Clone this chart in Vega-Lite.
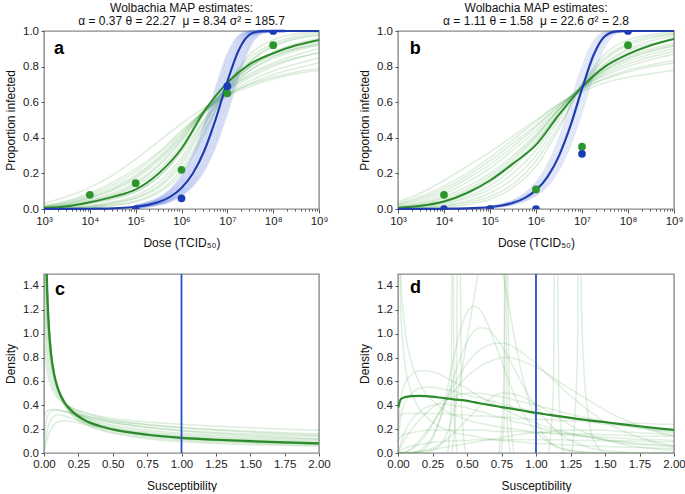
{
"$schema":"https://vega.github.io/schema/vega-lite/v6.json",
"padding":{"left":3,"top":0,"right":2,"bottom":0},
"config":{"font":"Liberation Sans","view":{"stroke":"#8a8a8a","strokeWidth":1.4},
"axis":{"grid":false,"domain":false,"tickColor":"#555","tickSize":3,"labelFontSize":11.5,"labelColor":"#222","titleFontSize":12,"titleFontWeight":"normal","titleColor":"#111","labelPadding":2.5,"titlePadding":5},
"axisX":{"titlePadding":10},
"title":{"fontSize":12,"fontWeight":"normal","color":"#111","anchor":"middle","offset":-3,"lineHeight":13.5}},
"columns":2,
"spacing":{"row":23,"column":26},
"datasets":{
"A":[
{"x":1e3,"g":0.005,"b":0.0001,"s1":0.001,"s2":0.002,"s3":0.003,"s4":0.004,"s5":0.006,"s6":0.008,"s7":0.01,"s8":0.013,"s9":0.016,"s10":0.03,"s11":0.018,"s12":0.002,"s13":0.005,"s14":0.001,"s15":0.007,"s16":0.012},
{"x":1778,"b":0.0002},
{"x":3162,"g":0.015,"b":0.0004,"s1":0.003,"s2":0.005,"s3":0.008,"s4":0.012,"s5":0.018,"s6":0.022,"s7":0.028,"s8":0.035,"s9":0.04,"s10":0.07,"s11":0.045,"s12":0.006,"s13":0.014,"s14":0.004,"s15":0.02,"s16":0.03},
{"x":5623,"b":0.0007},
{"x":1e4,"g":0.038,"b":0.0013,"s1":0.008,"s2":0.013,"s3":0.02,"s4":0.03,"s5":0.04,"s6":0.05,"s7":0.06,"s8":0.07,"s9":0.08,"s10":0.12,"s11":0.09,"s12":0.016,"s13":0.033,"s14":0.01,"s15":0.045,"s16":0.065},
{"x":17783,"b":0.0022},
{"x":31623,"g":0.068,"b":0.004,"s1":0.018,"s2":0.03,"s3":0.04,"s4":0.055,"s5":0.075,"s6":0.09,"s7":0.105,"s8":0.12,"s9":0.135,"s10":0.19,"s11":0.15,"s12":0.035,"s13":0.06,"s14":0.022,"s15":0.08,"s16":0.11},
{"x":56234,"b":0.0071},
{"x":1e5,"g":0.11,"b":0.0125,"s1":0.04,"s2":0.06,"s3":0.075,"s4":0.095,"s5":0.13,"s6":0.15,"s7":0.17,"s8":0.19,"s9":0.21,"s10":0.28,"s11":0.225,"s12":0.065,"s13":0.1,"s14":0.045,"s15":0.14,"s16":0.18,"t1":0.0198,"t2":0.0176,"t3":0.0157,"t4":0.014,"t5":0.0112,"t6":0.00995,"t7":0.0089,"t8":0.0079},
{"x":177828,"b":0.0221,"t1":0.0349,"t2":0.0311,"t3":0.0278,"t4":0.0248,"t5":0.0198,"t6":0.0176,"t7":0.0157,"t8":0.014},
{"x":316228,"g":0.2,"b":0.039,"s1":0.09,"s2":0.12,"s3":0.15,"s4":0.18,"s5":0.22,"s6":0.25,"s7":0.27,"s8":0.29,"s9":0.31,"s10":0.38,"s11":0.32,"s12":0.13,"s13":0.18,"s14":0.1,"s15":0.24,"s16":0.28,"t1":0.0612,"t2":0.0547,"t3":0.0489,"t4":0.0437,"t5":0.0349,"t6":0.0311,"t7":0.0278,"t8":0.0248},
{"x":562341,"b":0.0683,"t1":0.1061,"t2":0.0952,"t3":0.0853,"t4":0.0764,"t5":0.0612,"t6":0.0547,"t7":0.0489,"t8":0.0437},
{"x":1e6,"g":0.34,"b":0.1183,"s1":0.2,"s2":0.25,"s3":0.29,"s4":0.33,"s5":0.36,"s6":0.39,"s7":0.4,"s8":0.42,"s9":0.43,"s10":0.48,"s11":0.44,"s12":0.27,"s13":0.32,"s14":0.22,"s15":0.38,"s16":0.41,"t1":0.1809,"t2":0.1629,"t3":0.1466,"t4":0.1318,"t5":0.1061,"t6":0.0952,"t7":0.0853,"t8":0.0764},
{"x":1778279,"b":0.2006,"t1":0.2987,"t2":0.2711,"t3":0.2456,"t4":0.2221,"t5":0.1809,"t6":0.1629,"t7":0.1466,"t8":0.1318},
{"x":3162278,"g":0.55,"b":0.3284,"s1":0.42,"s2":0.47,"s3":0.5,"s4":0.53,"s5":0.54,"s6":0.55,"s7":0.55,"s8":0.55,"s9":0.55,"s10":0.57,"s11":0.55,"s12":0.48,"s13":0.5,"s14":0.44,"s15":0.56,"s16":0.56,"t1":0.4679,"t2":0.4301,"t3":0.3942,"t4":0.3602,"t5":0.2987,"t6":0.2711,"t7":0.2456,"t8":0.2221},
{"x":5623413,"b":0.5073,"t1":0.6744,"t2":0.6321,"t3":0.5899,"t4":0.5481,"t5":0.4679,"t6":0.4301,"t7":0.3942,"t8":0.3602},
{"x":1e7,"g":0.71,"b":0.716,"s1":0.69,"s2":0.7,"s3":0.7,"s4":0.69,"s5":0.68,"s6":0.67,"s7":0.66,"s8":0.65,"s9":0.64,"s10":0.645,"s11":0.635,"s12":0.67,"s13":0.66,"s14":0.67,"s15":0.7,"s16":0.67,"t1":0.864,"t2":0.831,"t3":0.795,"t4":0.7566,"t5":0.6744,"t6":0.6321,"t7":0.5899,"t8":0.5481},
{"x":17782794,"b":0.8934,"t1":0.9712,"t2":0.9577,"t3":0.9403,"t4":0.919,"t5":0.864,"t6":0.831,"t7":0.795,"t8":0.7566},
{"x":31622777,"g":0.815,"b":0.9813,"s1":0.87,"s2":0.85,"s3":0.83,"s4":0.8,"s5":0.78,"s6":0.76,"s7":0.74,"s8":0.72,"s9":0.705,"s10":0.7,"s11":0.69,"s12":0.8,"s13":0.78,"s14":0.83,"s15":0.8,"s16":0.75,"t1":0.9982,"t2":0.9964,"t3":0.9933,"t4":0.9885,"t5":0.9712,"t6":0.9577,"t7":0.9403,"t8":0.919},
{"x":56234133,"b":0.9992,"t1":1,"t2":1,"t3":1,"t4":0.9997,"t5":0.9982,"t6":0.9964,"t7":0.9933,"t8":0.9885},
{"x":1e8,"g":0.875,"b":1,"s1":0.95,"s2":0.93,"s3":0.91,"s4":0.87,"s5":0.845,"s6":0.82,"s7":0.8,"s8":0.775,"s9":0.755,"s10":0.74,"s11":0.73,"s12":0.88,"s13":0.855,"s14":0.92,"s15":0.86,"s16":0.81,"t1":1,"t2":1,"t3":1,"t4":1,"t5":1,"t6":1,"t7":0.9997,"t8":0.9997},
{"x":177827941,"b":1,"t1":1,"t2":1,"t3":1,"t4":1,"t5":1,"t6":1,"t7":1,"t8":1},
{"x":316227766,"g":0.92,"b":1,"s1":0.985,"s2":0.97,"s3":0.955,"s4":0.91,"s5":0.89,"s6":0.865,"s7":0.845,"s8":0.815,"s9":0.79,"s10":0.77,"s11":0.76,"s12":0.93,"s13":0.9,"s14":0.96,"s15":0.9,"s16":0.85},
{"x":562341325,"b":1},
{"x":1e9,"g":0.95,"b":1,"s1":0.995,"s2":0.99,"s3":0.975,"s4":0.94,"s5":0.92,"s6":0.9,"s7":0.88,"s8":0.85,"s9":0.82,"s10":0.79,"s11":0.78,"s12":0.96,"s13":0.93,"s14":0.98,"s15":0.925,"s16":0.875}
],
"B":[
{"x":1e3,"g":0.006,"b":0.0001,"s1":0.001,"s2":0.003,"s3":0.005,"s4":0.008,"s5":0.012,"s6":0.02,"s7":0.03,"s8":0.04,"s9":0.002,"s10":0.006,"s11":0.015,"s12":0.004,"s13":0.025,"s14":0.01},
{"x":1778,"b":0.0002},
{"x":3162,"g":0.018,"b":0.0004,"s1":0.004,"s2":0.008,"s3":0.014,"s4":0.022,"s5":0.032,"s6":0.05,"s7":0.07,"s8":0.09,"s9":0.006,"s10":0.018,"s11":0.04,"s12":0.011,"s13":0.06,"s14":0.027},
{"x":5623,"b":0.0006},
{"x":1e4,"g":0.042,"b":0.0011,"s1":0.01,"s2":0.02,"s3":0.035,"s4":0.05,"s5":0.07,"s6":0.1,"s7":0.13,"s8":0.16,"s9":0.016,"s10":0.042,"s11":0.085,"s12":0.028,"s13":0.115,"s14":0.06},
{"x":17783,"b":0.002},
{"x":31623,"g":0.09,"b":0.0035,"s1":0.025,"s2":0.045,"s3":0.07,"s4":0.1,"s5":0.125,"s6":0.17,"s7":0.2,"s8":0.24,"s9":0.035,"s10":0.085,"s11":0.15,"s12":0.06,"s13":0.185,"s14":0.11},
{"x":56234,"b":0.0063},
{"x":1e5,"g":0.16,"b":0.0112,"s1":0.055,"s2":0.09,"s3":0.13,"s4":0.17,"s5":0.2,"s6":0.25,"s7":0.29,"s8":0.32,"s9":0.07,"s10":0.15,"s11":0.23,"s12":0.11,"s13":0.27,"s14":0.185,"t1":0.0157,"t2":0.014,"t3":0.0125,"t4":0.00995,"t5":0.0089,"t6":0.0079},
{"x":177828,"b":0.0198,"t1":0.0278,"t2":0.0248,"t3":0.0221,"t4":0.0176,"t5":0.0157,"t6":0.014},
{"x":316228,"g":0.255,"b":0.0349,"s1":0.12,"s2":0.17,"s3":0.23,"s4":0.27,"s5":0.3,"s6":0.35,"s7":0.39,"s8":0.41,"s9":0.14,"s10":0.25,"s11":0.33,"s12":0.2,"s13":0.37,"s14":0.285,"t1":0.0489,"t2":0.0437,"t3":0.039,"t4":0.0311,"t5":0.0278,"t6":0.0248},
{"x":562341,"b":0.0612,"t1":0.0853,"t2":0.0764,"t3":0.0683,"t4":0.0547,"t5":0.0489,"t6":0.0437},
{"x":1e6,"g":0.36,"b":0.1061,"s1":0.24,"s2":0.3,"s3":0.37,"s4":0.4,"s5":0.42,"s6":0.46,"s7":0.49,"s8":0.5,"s9":0.27,"s10":0.38,"s11":0.44,"s12":0.33,"s13":0.47,"s14":0.41,"t1":0.1466,"t2":0.1318,"t3":0.1183,"t4":0.0952,"t5":0.0853,"t6":0.0764},
{"x":1778279,"b":0.1809,"t1":0.2456,"t2":0.2221,"t3":0.2006,"t4":0.1629,"t5":0.1466,"t6":0.1318},
{"x":3162278,"g":0.53,"b":0.2987,"s1":0.45,"s2":0.5,"s3":0.55,"s4":0.56,"s5":0.56,"s6":0.58,"s7":0.59,"s8":0.59,"s9":0.47,"s10":0.54,"s11":0.57,"s12":0.52,"s13":0.58,"s14":0.56,"t1":0.3942,"t2":0.3602,"t3":0.3284,"t4":0.2711,"t5":0.2456,"t6":0.2221},
{"x":5623413,"b":0.4679,"t1":0.5899,"t2":0.5481,"t3":0.5073,"t4":0.4301,"t5":0.3942,"t6":0.3602},
{"x":1e7,"g":0.685,"b":0.6744,"s1":0.7,"s2":0.7,"s3":0.7,"s4":0.69,"s5":0.68,"s6":0.68,"s7":0.675,"s8":0.66,"s9":0.69,"s10":0.68,"s11":0.68,"s12":0.69,"s13":0.67,"s14":0.685,"t1":0.795,"t2":0.7566,"t3":0.716,"t4":0.6321,"t5":0.5899,"t6":0.5481},
{"x":17782794,"b":0.864,"t1":0.9403,"t2":0.919,"t3":0.8934,"t4":0.831,"t5":0.795,"t6":0.7566},
{"x":31622777,"g":0.8,"b":0.9712,"s1":0.87,"s2":0.85,"s3":0.82,"s4":0.79,"s5":0.77,"s6":0.75,"s7":0.73,"s8":0.71,"s9":0.84,"s10":0.78,"s11":0.76,"s12":0.81,"s13":0.735,"s14":0.78,"t1":0.9933,"t2":0.9885,"t3":0.9813,"t4":0.9577,"t5":0.9403,"t6":0.919},
{"x":56234133,"b":0.9982,"t1":1,"t2":0.9997,"t3":0.9992,"t4":0.9964,"t5":0.9933,"t6":0.9885},
{"x":1e8,"g":0.87,"b":1,"s1":0.95,"s2":0.93,"s3":0.9,"s4":0.86,"s5":0.83,"s6":0.8,"s7":0.77,"s8":0.74,"s9":0.92,"s10":0.85,"s11":0.815,"s12":0.89,"s13":0.78,"s14":0.845,"t1":1,"t2":1,"t3":1,"t4":1,"t5":1,"t6":0.9997},
{"x":177827941,"b":1,"t1":1,"t2":1,"t3":1,"t4":1,"t5":1,"t6":1},
{"x":316227766,"g":0.92,"b":1,"s1":0.98,"s2":0.97,"s3":0.945,"s4":0.9,"s5":0.87,"s6":0.84,"s7":0.8,"s8":0.76,"s9":0.96,"s10":0.89,"s11":0.855,"s12":0.93,"s13":0.81,"s14":0.885},
{"x":562341325,"b":1},
{"x":1e9,"g":0.955,"b":1,"s1":0.993,"s2":0.985,"s3":0.97,"s4":0.93,"s5":0.9,"s6":0.87,"s7":0.82,"s8":0.78,"s9":0.98,"s10":0.92,"s11":0.885,"s12":0.955,"s13":0.835,"s14":0.915}
],
"PA":[
{"c":"g","x":1e4,"y":0.08},{"c":"g","x":1e5,"y":0.145},{"c":"g","x":1e6,"y":0.22},{"c":"g","x":1e7,"y":0.65},{"c":"g","x":1e8,"y":0.92},
{"c":"b","x":1e5,"y":0},{"c":"b","x":1e6,"y":0.06},{"c":"b","x":1e7,"y":0.69},{"c":"b","x":1e8,"y":1}
],
"PB":[
{"c":"g","x":1e4,"y":0.08},{"c":"g","x":1e5,"y":0},{"c":"g","x":1e6,"y":0.11},{"c":"g","x":1e7,"y":0.35},{"c":"g","x":1e8,"y":0.92},
{"c":"b","x":1e4,"y":0},{"c":"b","x":1e5,"y":0},{"c":"b","x":1e6,"y":0},{"c":"b","x":1e7,"y":0.31},{"c":"b","x":1e8,"y":1}
],
"C":[
{"x":0.005,"m":3.6,"s1":5.0,"s2":4.2,"s3":3.0,"s4":2.2,"s5":1.6,"s6":1.2,"s7":0.9,"s8":3.4,"s9":3.8,"s10":2.6,"s11":0.05,"s12":0.15,"s13":0.02,"s14":0.3},
{"x":0.01,"m":2.33,"s1":3.0,"s2":2.6,"s3":2.0,"s4":1.6,"s5":1.25,"s6":1.0,"s7":0.8,"s8":2.2,"s9":2.4,"s10":1.8,"s11":0.1,"s12":0.22,"s13":0.05,"s14":0.33},
{"x":0.02,"m":1.5,"s1":1.75,"s2":1.6,"s3":1.35,"s4":1.15,"s5":0.95,"s6":0.82,"s7":0.7,"s8":1.45,"s9":1.52,"s10":1.25,"s11":0.17,"s12":0.29,"s13":0.1,"s14":0.35},
{"x":0.03,"m":1.17,"s1":1.3,"s2":1.22,"s3":1.08,"s4":0.95,"s5":0.82,"s6":0.72,"s7":0.64,"s8":1.13,"s9":1.17,"s10":1.0,"s11":0.22,"s12":0.32,"s13":0.14,"s14":0.36},
{"x":0.05,"m":0.845,"s1":0.9,"s2":0.86,"s3":0.8,"s4":0.74,"s5":0.66,"s6":0.61,"s7":0.56,"s8":0.83,"s9":0.84,"s10":0.77,"s11":0.28,"s12":0.35,"s13":0.2,"s14":0.365},
{"x":0.075,"m":0.654,"s1":0.67,"s2":0.65,"s3":0.63,"s4":0.6,"s5":0.56,"s6":0.53,"s7":0.5,"s8":0.65,"s9":0.65,"s10":0.62,"s11":0.31,"s12":0.36,"s13":0.24,"s14":0.365},
{"x":0.1,"m":0.547,"s1":0.54,"s2":0.53,"s3":0.53,"s4":0.52,"s5":0.5,"s6":0.48,"s7":0.46,"s8":0.545,"s9":0.54,"s10":0.53,"s11":0.32,"s12":0.36,"s13":0.26,"s14":0.36},
{"x":0.15,"m":0.423,"s1":0.4,"s2":0.4,"s3":0.42,"s4":0.42,"s5":0.42,"s6":0.42,"s7":0.41,"s8":0.42,"s9":0.41,"s10":0.42,"s11":0.31,"s12":0.345,"s13":0.27,"s14":0.35},
{"x":0.2,"m":0.353,"s1":0.32,"s2":0.33,"s3":0.355,"s4":0.365,"s5":0.37,"s6":0.38,"s7":0.38,"s8":0.35,"s9":0.34,"s10":0.36,"s11":0.29,"s12":0.33,"s13":0.265,"s14":0.335},
{"x":0.3,"m":0.273,"s1":0.24,"s2":0.25,"s3":0.28,"s4":0.3,"s5":0.315,"s6":0.33,"s7":0.34,"s8":0.27,"s9":0.262,"s10":0.29,"s11":0.255,"s12":0.3,"s13":0.24,"s14":0.31},
{"x":0.4,"m":0.228,"s1":0.195,"s2":0.205,"s3":0.238,"s4":0.26,"s5":0.28,"s6":0.3,"s7":0.31,"s8":0.225,"s9":0.218,"s10":0.248,"s11":0.225,"s12":0.275,"s13":0.215,"s14":0.29},
{"x":0.5,"m":0.198,"s1":0.165,"s2":0.175,"s3":0.21,"s4":0.235,"s5":0.255,"s6":0.275,"s7":0.29,"s8":0.195,"s9":0.189,"s10":0.22,"s11":0.2,"s12":0.255,"s13":0.195,"s14":0.27},
{"x":0.75,"m":0.153,"s1":0.12,"s2":0.132,"s3":0.166,"s4":0.192,"s5":0.215,"s6":0.24,"s7":0.26,"s8":0.15,"s9":0.145,"s10":0.178,"s11":0.16,"s12":0.215,"s13":0.16,"s14":0.235},
{"x":1,"m":0.127,"s1":0.095,"s2":0.107,"s3":0.14,"s4":0.165,"s5":0.19,"s6":0.215,"s7":0.24,"s8":0.124,"s9":0.118,"s10":0.152,"s11":0.13,"s12":0.185,"s13":0.135,"s14":0.21},
{"x":1.25,"m":0.111,"s1":0.08,"s2":0.092,"s3":0.123,"s4":0.148,"s5":0.172,"s6":0.197,"s7":0.225,"s8":0.107,"s9":0.102,"s10":0.135,"s11":0.11,"s12":0.163,"s13":0.118,"s14":0.19},
{"x":1.5,"m":0.099,"s1":0.07,"s2":0.081,"s3":0.11,"s4":0.135,"s5":0.158,"s6":0.182,"s7":0.212,"s8":0.095,"s9":0.09,"s10":0.122,"s11":0.095,"s12":0.146,"s13":0.104,"s14":0.173},
{"x":1.75,"m":0.089,"s1":0.062,"s2":0.073,"s3":0.1,"s4":0.124,"s5":0.147,"s6":0.17,"s7":0.2,"s8":0.086,"s9":0.081,"s10":0.112,"s11":0.083,"s12":0.132,"s13":0.093,"s14":0.16},
{"x":2,"m":0.081,"s1":0.056,"s2":0.066,"s3":0.092,"s4":0.115,"s5":0.138,"s6":0.16,"s7":0.19,"s8":0.078,"s9":0.074,"s10":0.104,"s11":0.073,"s12":0.12,"s13":0.084,"s14":0.149}
],
"D":[
{"x":0.001,"m":0.38,"s1":0,"s2":0,"s3":0,"s4":0,"s5":0,"s6":0.2,"s7":3,"s8":2.5,"s9":0,"s10":0.1,"s11":0.3,"s12":0.1,"s13":0,"s14":0,"s15":0,"s16":0},
{"x":0.02,"m":0.45,"s1":0,"s2":0,"s3":0,"s4":0,"s5":0,"s6":0.45,"s7":1.5,"s8":1.2,"s9":0.05,"s10":0.3,"s11":0.32,"s12":0.14,"s13":0.02,"s14":0.08,"s15":0,"s16":0},
{"x":0.05,"m":0.468,"s1":0,"s2":0,"s3":0,"s4":0.005,"s5":0.01,"s6":0.58,"s7":1.05,"s8":0.75,"s9":0.12,"s10":0.42,"s11":0.33,"s12":0.16,"s13":0.04,"s14":0.18,"s15":0,"s16":0},
{"x":0.1,"m":0.476,"s1":0,"s2":0,"s3":0.005,"s4":0.03,"s5":0.04,"s6":0.66,"s7":0.75,"s8":0.5,"s9":0.2,"s10":0.5,"s11":0.33,"s12":0.17,"s13":0.06,"s14":0.28,"s15":0,"s16":0.005},
{"x":0.15,"m":0.478,"s1":0,"s2":0.01,"s3":0.02,"s4":0.08,"s5":0.1,"s6":0.69,"s7":0.6,"s8":0.38,"s9":0.27,"s10":0.54,"s11":0.33,"s12":0.18,"s13":0.07,"s14":0.34,"s15":0.01,"s16":0.01},
{"x":0.2,"m":0.477,"s1":0.005,"s2":0.04,"s3":0.06,"s4":0.15,"s5":0.17,"s6":0.69,"s7":0.5,"s8":0.31,"s9":0.33,"s10":0.55,"s11":0.33,"s12":0.19,"s13":0.08,"s14":0.38,"s15":0.02,"s16":0.02},
{"x":0.25,"m":0.472,"s1":0.02,"s2":0.12,"s3":0.14,"s4":0.24,"s5":0.25,"s6":0.68,"s7":0.44,"s8":0.26,"s9":0.38,"s10":0.55,"s11":0.33,"s12":0.19,"s13":0.09,"s14":0.4,"s15":0.04,"s16":0.03},
{"x":0.3,"m":0.465,"s1":0.06,"s2":0.27,"s3":0.27,"s4":0.34,"s5":0.34,"s6":0.66,"s7":0.39,"s8":0.22,"s9":0.42,"s10":0.54,"s11":0.33,"s12":0.19,"s13":0.095,"s14":0.41,"s15":0.07,"s16":0.04},
{"x":0.35,"m":0.458,"s1":0.15,"s2":0.5,"s3":0.44,"s4":0.45,"s5":0.43,"s6":0.63,"s7":0.35,"s8":0.2,"s9":0.45,"s10":0.53,"s11":0.33,"s12":0.19,"s13":0.1,"s14":0.41,"s15":0.11,"s16":0.05},
{"x":0.4,"m":0.45,"s1":0.33,"s2":0.78,"s3":0.62,"s4":0.56,"s5":0.51,"s6":0.6,"s7":0.32,"s8":0.18,"s9":0.47,"s10":0.52,"s11":0.32,"s12":0.19,"s13":0.1,"s14":0.4,"s15":0.16,"s16":0.06},
{"x":0.45,"m":0.444,"s1":0.6,"s2":1.02,"s3":0.79,"s4":0.66,"s5":0.58,"s6":0.57,"s7":0.3,"s8":0.16,"s9":0.49,"s10":0.5,"s11":0.32,"s12":0.19,"s13":0.105,"s14":0.39,"s15":0.22,"s16":0.07},
{"x":0.5,"m":0.437,"s1":0.95,"s2":1.18,"s3":0.93,"s4":0.75,"s5":0.64,"s6":0.54,"s7":0.28,"s8":0.15,"s9":0.5,"s10":0.49,"s11":0.32,"s12":0.19,"s13":0.105,"s14":0.38,"s15":0.28,"s16":0.08},
{"x":0.55,"m":0.426,"s1":1.3,"s2":1.23,"s3":1.02,"s4":0.82,"s5":0.69,"s6":0.5,"s7":0.26,"s8":0.14,"s9":0.5,"s10":0.47,"s11":0.31,"s12":0.19,"s13":0.11,"s14":0.36,"s15":0.34,"s16":0.09},
{"x":0.6,"m":0.415,"s1":1.62,"s2":1.19,"s3":1.05,"s4":0.87,"s5":0.73,"s6":0.47,"s7":0.25,"s8":0.13,"s9":0.5,"s10":0.46,"s11":0.31,"s12":0.19,"s13":0.11,"s14":0.35,"s15":0.4,"s16":0.1},
{"x":0.65,"m":0.405,"s1":1.78,"s2":1.08,"s3":1.04,"s4":0.9,"s5":0.76,"s6":0.44,"s7":0.235,"s8":0.12,"s9":0.49,"s10":0.44,"s11":0.31,"s12":0.19,"s13":0.11,"s14":0.33,"s15":0.44,"s16":0.11},
{"x":0.7,"m":0.395,"s1":1.75,"s2":0.93,"s3":0.98,"s4":0.92,"s5":0.78,"s6":0.41,"s7":0.225,"s8":0.11,"s9":0.48,"s10":0.43,"s11":0.3,"s12":0.18,"s13":0.11,"s14":0.31,"s15":0.48,"s16":0.12},
{"x":0.75,"m":0.385,"s1":1.55,"s2":0.77,"s3":0.9,"s4":0.92,"s5":0.8,"s6":0.38,"s7":0.215,"s8":0.105,"s9":0.47,"s10":0.41,"s11":0.3,"s12":0.18,"s13":0.11,"s14":0.3,"s15":0.5,"s16":0.13},
{"x":0.8,"m":0.376,"s1":1.25,"s2":0.61,"s3":0.8,"s4":0.91,"s5":0.8,"s6":0.35,"s7":0.205,"s8":0.1,"s9":0.46,"s10":0.4,"s11":0.3,"s12":0.18,"s13":0.11,"s14":0.28,"s15":0.5,"s16":0.14},
{"x":0.85,"m":0.366,"s1":0.93,"s2":0.47,"s3":0.69,"s4":0.88,"s5":0.79,"s6":0.32,"s7":0.2,"s8":0.095,"s9":0.44,"s10":0.38,"s11":0.29,"s12":0.18,"s13":0.11,"s14":0.26,"s15":0.49,"s16":0.15},
{"x":0.9,"m":0.356,"s1":0.65,"s2":0.35,"s3":0.58,"s4":0.84,"s5":0.77,"s6":0.3,"s7":0.19,"s8":0.09,"s9":0.43,"s10":0.37,"s11":0.29,"s12":0.18,"s13":0.11,"s14":0.25,"s15":0.47,"s16":0.16},
{"x":1.0,"m":0.336,"s1":0.27,"s2":0.18,"s3":0.39,"s4":0.75,"s5":0.72,"s6":0.25,"s7":0.175,"s8":0.08,"s9":0.4,"s10":0.34,"s11":0.28,"s12":0.17,"s13":0.11,"s14":0.22,"s15":0.41,"s16":0.17},
{"x":1.1,"m":0.319,"s1":0.09,"s2":0.08,"s3":0.24,"s4":0.64,"s5":0.65,"s6":0.21,"s7":0.165,"s8":0.075,"s9":0.37,"s10":0.32,"s11":0.28,"s12":0.17,"s13":0.11,"s14":0.19,"s15":0.34,"s16":0.18},
{"x":1.2,"m":0.302,"s1":0.03,"s2":0.035,"s3":0.14,"s4":0.53,"s5":0.57,"s6":0.18,"s7":0.155,"s8":0.07,"s9":0.34,"s10":0.3,"s11":0.27,"s12":0.16,"s13":0.11,"s14":0.17,"s15":0.27,"s16":0.19},
{"x":1.3,"m":0.286,"s1":0.01,"s2":0.015,"s3":0.08,"s4":0.43,"s5":0.5,"s6":0.15,"s7":0.145,"s8":0.065,"s9":0.31,"s10":0.28,"s11":0.27,"s12":0.16,"s13":0.105,"s14":0.15,"s15":0.2,"s16":0.19},
{"x":1.4,"m":0.272,"s1":0,"s2":0.005,"s3":0.04,"s4":0.34,"s5":0.43,"s6":0.13,"s7":0.14,"s8":0.06,"s9":0.29,"s10":0.26,"s11":0.26,"s12":0.16,"s13":0.105,"s14":0.13,"s15":0.15,"s16":0.19},
{"x":1.5,"m":0.258,"s1":0,"s2":0,"s3":0.02,"s4":0.26,"s5":0.36,"s6":0.11,"s7":0.13,"s8":0.055,"s9":0.26,"s10":0.24,"s11":0.26,"s12":0.15,"s13":0.1,"s14":0.11,"s15":0.11,"s16":0.19},
{"x":1.6,"m":0.244,"s1":0,"s2":0,"s3":0.01,"s4":0.2,"s5":0.3,"s6":0.09,"s7":0.125,"s8":0.05,"s9":0.24,"s10":0.23,"s11":0.25,"s12":0.15,"s13":0.1,"s14":0.1,"s15":0.08,"s16":0.18},
{"x":1.75,"m":0.224,"s1":0,"s2":0,"s3":0,"s4":0.13,"s5":0.23,"s6":0.07,"s7":0.115,"s8":0.045,"s9":0.21,"s10":0.21,"s11":0.25,"s12":0.14,"s13":0.1,"s14":0.08,"s15":0.05,"s16":0.17},
{"x":1.9,"m":0.205,"s1":0,"s2":0,"s3":0,"s4":0.08,"s5":0.17,"s6":0.06,"s7":0.11,"s8":0.04,"s9":0.18,"s10":0.19,"s11":0.24,"s12":0.14,"s13":0.095,"s14":0.07,"s15":0.03,"s16":0.16},
{"x":2.0,"m":0.193,"s1":0,"s2":0,"s3":0,"s4":0.06,"s5":0.14,"s6":0.05,"s7":0.105,"s8":0.037,"s9":0.17,"s10":0.18,"s11":0.24,"s12":0.14,"s13":0.095,"s14":0.06,"s15":0.02,"s16":0.15}
],
"SP":[
{"k":"p1","x":0.39,"y":0},{"k":"p1","x":0.42,"y":0.4},{"k":"p1","x":0.44,"y":3},{"k":"p1","x":0.46,"y":0.4},{"k":"p1","x":0.49,"y":0},
{"k":"p2","x":0.73,"y":0},{"k":"p2","x":0.765,"y":0.5},{"k":"p2","x":0.785,"y":3},{"k":"p2","x":0.805,"y":0.5},{"k":"p2","x":0.84,"y":0},
{"k":"p3","x":1.09,"y":0},{"k":"p3","x":1.125,"y":0.5},{"k":"p3","x":1.145,"y":3},{"k":"p3","x":1.165,"y":0.5},{"k":"p3","x":1.2,"y":0},
{"k":"p4","x":1.26,"y":0},{"k":"p4","x":1.3,"y":0.8},{"k":"p4","x":1.315,"y":3},{"k":"p4","x":1.33,"y":1.2},{"k":"p4","x":1.36,"y":0.5},{"k":"p4","x":1.42,"y":0.1},{"k":"p4","x":1.5,"y":0},
{"k":"p5","x":0.36,"y":0},{"k":"p5","x":0.385,"y":0.4},{"k":"p5","x":0.395,"y":3},{"k":"p5","x":0.405,"y":0.4},{"k":"p5","x":0.43,"y":0},
{"k":"p6","x":0.745,"y":0},{"k":"p6","x":0.77,"y":0.3},{"k":"p6","x":0.78,"y":3},{"k":"p6","x":0.79,"y":0.3},{"k":"p6","x":0.815,"y":0}
],
"LA":[{"t":"a","x":1650,"y":0.9}],"LB":[{"t":"b","x":1800,"y":0.9}],"LC":[{"t":"c","x":0.08,"y":1.37}],"LD":[{"t":"d","x":0.087,"y":1.38}],
"R":[{"x":1,"y":0,"y2":1.5}]
},
"concat":[
{
"width":275,"height":178,
"title":{"text":["Wolbachia MAP estimates:","α = 0.37 θ = 22.27\u00a0 μ = 8.34 σ² = 185.7"]},
"encoding":{
"x":{"field":"x","type":"quantitative","scale":{"type":"log","domain":[1000,1000000000],"nice":false},
"axis":{"title":"Dose (TCID₅₀)","values":[1e3,2e3,3e3,4e3,5e3,6e3,7e3,8e3,9e3,1e4,2e4,3e4,4e4,5e4,6e4,7e4,8e4,9e4,1e5,2e5,3e5,4e5,5e5,6e5,7e5,8e5,9e5,1e6,2e6,3e6,4e6,5e6,6e6,7e6,8e6,9e6,1e7,2e7,3e7,4e7,5e7,6e7,7e7,8e7,9e7,1e8,2e8,3e8,4e8,5e8,6e8,7e8,8e8,9e8,1e9],
"labelExpr":"abs(log(datum.value)/LN10 - round(log(datum.value)/LN10)) < 0.01 ? '10' + substring('⁰¹²³⁴⁵⁶⁷⁸⁹', round(log(datum.value)/LN10), round(log(datum.value)/LN10) + 1) : ''",
"labelFlush":false,"labelOverlap":false,
"tickSize":{"condition":{"test":"abs(log(datum.value)/LN10 - round(log(datum.value)/LN10)) < 0.01","value":4},"value":2}}},
"y":{"field":"y","type":"quantitative","scale":{"domain":[0,1],"nice":false},"axis":{"title":"Proportion infected","values":[0,0.2,0.4,0.6,0.8,1],"format":".1f"}}
},
"layer":[
{"data":{"name":"A"},"transform":[{"fold":["s1","s2","s3","s4","s5","s6","s7","s8","s9","s10","s11","s12","s13","s14","s15","s16"],"as":["k","y"]},{"filter":"isValid(datum.y)"}],
"mark":{"type":"line","interpolate":"monotone","color":"#3c9a3c","opacity":0.18,"strokeWidth":1.5},"encoding":{"detail":{"field":"k"}}},
{"data":{"name":"A"},"transform":[{"fold":["t1","t2","t3","t4","t5","t6","t7","t8"],"as":["k","y"]},{"filter":"isValid(datum.y)"}],
"mark":{"type":"line","interpolate":"monotone","color":"#3b5fd0","opacity":0.2,"strokeWidth":2.5},"encoding":{"detail":{"field":"k"}}},
{"data":{"name":"A"},"transform":[{"fold":["g"],"as":["k","y"]},{"filter":"isValid(datum.y)"}],
"mark":{"type":"line","interpolate":"monotone","color":"#2b8b2b","strokeWidth":2}},
{"data":{"name":"A"},"transform":[{"fold":["b"],"as":["k","y"]},{"filter":"isValid(datum.y)"}],
"mark":{"type":"line","interpolate":"monotone","color":"#1f3cb0","strokeWidth":2.2}},
{"data":{"name":"PA"},"mark":{"type":"circle","size":60,"opacity":1,"clip":true},
"encoding":{"color":{"field":"c","type":"nominal","scale":{"domain":["g","b"],"range":["#2c962c","#1b3cb3"]},"legend":null}}},
{"data":{"name":"LA"},"mark":{"type":"text","fontSize":18,"fontWeight":"bold","align":"left","baseline":"middle","color":"#000"},
"encoding":{"text":{"field":"t","type":"nominal"}}}
]
},
{
"width":276,"height":178,
"title":{"text":["Wolbachia MAP estimates:","α = 1.11 θ = 1.58\u00a0 μ = 22.6 σ² = 2.8"]},
"encoding":{
"x":{"field":"x","type":"quantitative","scale":{"type":"log","domain":[1000,1000000000],"nice":false},
"axis":{"title":"Dose (TCID₅₀)","values":[1e3,2e3,3e3,4e3,5e3,6e3,7e3,8e3,9e3,1e4,2e4,3e4,4e4,5e4,6e4,7e4,8e4,9e4,1e5,2e5,3e5,4e5,5e5,6e5,7e5,8e5,9e5,1e6,2e6,3e6,4e6,5e6,6e6,7e6,8e6,9e6,1e7,2e7,3e7,4e7,5e7,6e7,7e7,8e7,9e7,1e8,2e8,3e8,4e8,5e8,6e8,7e8,8e8,9e8,1e9],
"labelExpr":"abs(log(datum.value)/LN10 - round(log(datum.value)/LN10)) < 0.01 ? '10' + substring('⁰¹²³⁴⁵⁶⁷⁸⁹', round(log(datum.value)/LN10), round(log(datum.value)/LN10) + 1) : ''",
"labelFlush":false,"labelOverlap":false,
"tickSize":{"condition":{"test":"abs(log(datum.value)/LN10 - round(log(datum.value)/LN10)) < 0.01","value":4},"value":2}}},
"y":{"field":"y","type":"quantitative","scale":{"domain":[0,1],"nice":false},"axis":{"title":"Proportion infected","values":[0,0.2,0.4,0.6,0.8,1],"format":".1f"}}
},
"layer":[
{"data":{"name":"B"},"transform":[{"fold":["s1","s2","s3","s4","s5","s6","s7","s8","s9","s10","s11","s12","s13","s14"],"as":["k","y"]},{"filter":"isValid(datum.y)"}],
"mark":{"type":"line","interpolate":"monotone","color":"#3c9a3c","opacity":0.18,"strokeWidth":1.5},"encoding":{"detail":{"field":"k"}}},
{"data":{"name":"B"},"transform":[{"fold":["t1","t2","t3","t4","t5","t6"],"as":["k","y"]},{"filter":"isValid(datum.y)"}],
"mark":{"type":"line","interpolate":"monotone","color":"#3b5fd0","opacity":0.17,"strokeWidth":1.8},"encoding":{"detail":{"field":"k"}}},
{"data":{"name":"B"},"transform":[{"fold":["g"],"as":["k","y"]},{"filter":"isValid(datum.y)"}],
"mark":{"type":"line","interpolate":"monotone","color":"#2b8b2b","strokeWidth":2}},
{"data":{"name":"B"},"transform":[{"fold":["b"],"as":["k","y"]},{"filter":"isValid(datum.y)"}],
"mark":{"type":"line","interpolate":"monotone","color":"#1f3cb0","strokeWidth":2.2}},
{"data":{"name":"PB"},"mark":{"type":"circle","size":60,"opacity":1,"clip":true},
"encoding":{"color":{"field":"c","type":"nominal","scale":{"domain":["g","b"],"range":["#2c962c","#1b3cb3"]},"legend":null}}},
{"data":{"name":"LB"},"mark":{"type":"text","fontSize":18,"fontWeight":"bold","align":"left","baseline":"middle","color":"#000"},
"encoding":{"text":{"field":"t","type":"nominal"}}}
]
},
{
"width":275,"height":179,
"encoding":{
"x":{"field":"x","type":"quantitative","scale":{"domain":[0,2],"nice":false},"axis":{"title":"Susceptibility","values":[0,0.25,0.5,0.75,1,1.25,1.5,1.75,2],"format":".2f","labelFlush":false}},
"y":{"field":"y","type":"quantitative","scale":{"domain":[0,1.5],"nice":false},"axis":{"title":"Density","values":[0,0.2,0.4,0.6,0.8,1,1.2,1.4],"format":".1f"}}
},
"layer":[
{"data":{"name":"C"},"transform":[{"fold":["s1","s2","s3","s4","s5","s6","s7","s8","s9","s10","s11","s12","s13","s14"],"as":["k","y"]}],
"mark":{"type":"line","interpolate":"monotone","color":"#3c9a3c","opacity":0.18,"strokeWidth":1.5,"clip":true},"encoding":{"detail":{"field":"k"}}},
{"data":{"name":"C"},"transform":[{"fold":["m"],"as":["k","y"]}],
"mark":{"type":"line","interpolate":"monotone","color":"#2b8b2b","strokeWidth":2.2,"clip":true}},
{"data":{"name":"R"},"mark":{"type":"rule","color":"#2a4fc8","strokeWidth":1.8},
"encoding":{"y2":{"field":"y2"}}},
{"data":{"name":"LC"},"mark":{"type":"text","fontSize":18,"fontWeight":"bold","align":"left","baseline":"middle","color":"#000"},
"encoding":{"text":{"field":"t","type":"nominal"}}}
]
},
{
"width":276,"height":179,
"encoding":{
"x":{"field":"x","type":"quantitative","scale":{"domain":[0,2],"nice":false},"axis":{"title":"Susceptibility","values":[0,0.25,0.5,0.75,1,1.25,1.5,1.75,2],"format":".2f","labelFlush":false}},
"y":{"field":"y","type":"quantitative","scale":{"domain":[0,1.5],"nice":false},"axis":{"title":"Density","values":[0,0.2,0.4,0.6,0.8,1,1.2,1.4],"format":".1f"}}
},
"layer":[
{"data":{"name":"D"},"transform":[{"fold":["s1","s2","s3","s4","s5","s6","s7","s8","s9","s10","s11","s12","s13","s14","s15","s16"],"as":["k","y"]}],
"mark":{"type":"line","interpolate":"monotone","color":"#3c9a3c","opacity":0.16,"strokeWidth":1.5,"clip":true},"encoding":{"detail":{"field":"k"}}},
{"data":{"name":"SP"},
"mark":{"type":"line","interpolate":"monotone","color":"#3c9a3c","opacity":0.16,"strokeWidth":1.5,"clip":true},"encoding":{"detail":{"field":"k"}}},
{"data":{"name":"D"},"transform":[{"fold":["m"],"as":["k","y"]}],
"mark":{"type":"line","interpolate":"monotone","color":"#2b8b2b","strokeWidth":2.2,"clip":true}},
{"data":{"name":"R"},"mark":{"type":"rule","color":"#2a4fc8","strokeWidth":1.8},
"encoding":{"y2":{"field":"y2"}}},
{"data":{"name":"LD"},"mark":{"type":"text","fontSize":18,"fontWeight":"bold","align":"left","baseline":"middle","color":"#000"},
"encoding":{"text":{"field":"t","type":"nominal"}}}
]
}
]
}
